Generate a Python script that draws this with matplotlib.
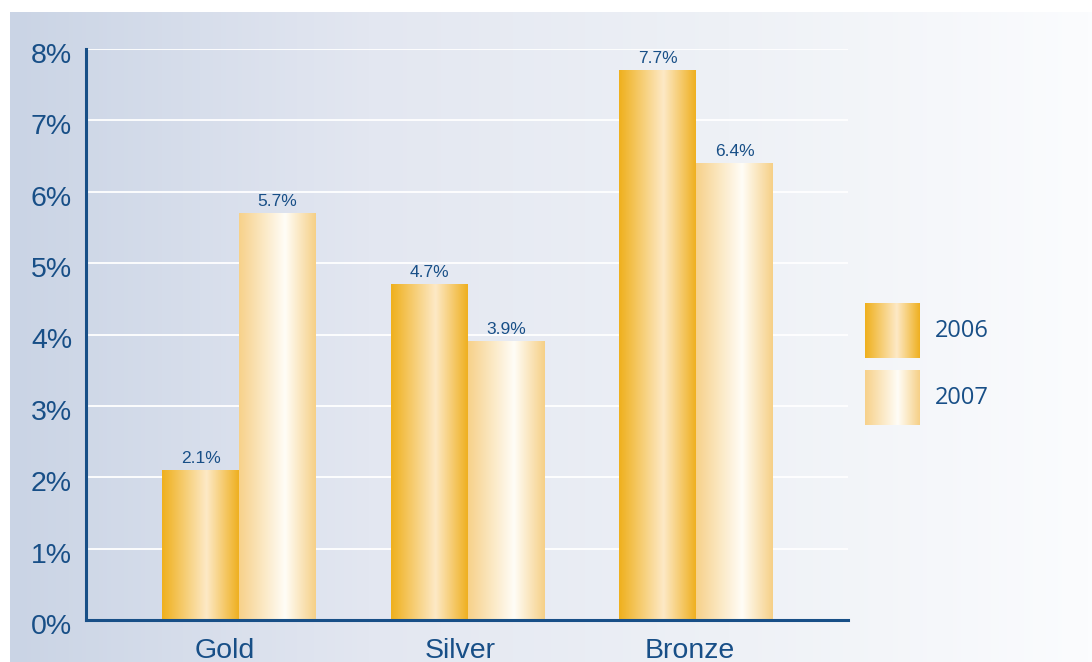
import numpy as np
import matplotlib.pyplot as plt
import matplotlib.transforms as mtransforms
from matplotlib.colors import LinearSegmentedColormap

categories = ['Gold', 'Silver', 'Bronze']
years = ['2006', '2007']
vals_2006 = [2.1, 4.7, 7.7]
vals_2007 = [5.7, 3.9, 6.4]
yticks = [0, 1, 2, 3, 4, 5, 6, 7, 8]

navy = '#184f87'
cm_2006 = LinearSegmentedColormap.from_list('g06', [(0, '#efb01d'), (0.58, '#fde9c6'), (1, '#efb021')])
cm_2007 = LinearSegmentedColormap.from_list('g07', [(0, '#f7d18a'), (0.6, '#fffdf7'), (1, '#f6d087')])
cm_bg = LinearSegmentedColormap.from_list('bg', ['#cad4e5', '#e3e7f1', '#eef1f6', '#fbfcfe'])

W, H = 1092, 662
fig = plt.figure(figsize=(W / 100, H / 100), dpi=100)

# background panel
bg = fig.add_axes([10 / W, 0, 1 - 10 / W, (H - 12) / H], zorder=-5)
bg.imshow(np.linspace(0, 1, 256)[None, :], cmap=cm_bg, aspect='auto', extent=[0, 1, 0, 1])
bg.axis('off')

ax = fig.add_axes([86 / W, (H - 620) / H, (848 - 86) / W, (620 - 49) / H])
ax.patch.set_visible(False)

x = np.arange(len(categories))
w = 0.337
grad = np.linspace(0, 1, 200)[None, :]

for vals, off, cm in [(vals_2006, -w / 2, cm_2006), (vals_2007, w / 2, cm_2007)]:
    bars = ax.bar(x + off, vals, w, color='none', edgecolor='none')
    for b, v in zip(bars, vals):
        x0 = b.get_x()
        ax.imshow(grad, cmap=cm, aspect='auto', extent=[x0, x0 + w, 0, v], zorder=2)
        ax.text(x0 + w / 2, v + 0.06, f'{v:.1f}%', ha='center', va='bottom',
                fontsize=12.5, color=navy, family='Liberation Sans', zorder=3)

ax.set_xlim(-0.67, 2.665)
ax.set_ylim(0, 8)
ax.set_yticks(yticks)
ax.set_yticklabels([f'{t}%' for t in yticks], fontsize=20.5, color=navy, family='Liberation Sans')
ax.set_xticks(x)
ax.set_xticklabels(categories, fontsize=20.5, color=navy, family='Liberation Sans')
ax.tick_params(axis='both', length=0)
ax.tick_params(axis='y', pad=10)
ax.tick_params(axis='x', pad=13)
# nudge labels to where they sit in the original
for lab in ax.get_yticklabels():
    lab.set_transform(lab.get_transform() + mtransforms.ScaledTranslation(0, -4 / 100, fig.dpi_scale_trans))
for lab, dx in zip(ax.get_xticklabels(), [-14, -7, -6]):
    lab.set_transform(lab.get_transform() + mtransforms.ScaledTranslation(dx / 100, 0, fig.dpi_scale_trans))
ax.grid(axis='y', color='white', linewidth=1.3, zorder=0)
ax.set_axisbelow(True)
for s in ['top', 'right']:
    ax.spines[s].set_visible(False)
for s in ['left', 'bottom']:
    ax.spines[s].set_color(navy)
    ax.spines[s].set_linewidth(2.2)
    ax.spines[s].set_zorder(4)

# legend
for i, (yr, cm) in enumerate(zip(years, [cm_2006, cm_2007])):
    top = 303 + i * 67
    lax = fig.add_axes([865 / W, (H - top - 55) / H, 55 / W, 55 / H])
    lax.imshow(grad, cmap=cm, aspect='auto')
    lax.axis('off')
    fig.text(935 / W, (H - top - 28) / H, yr, fontsize=17, color=navy,
             family='Open Sans', va='center', ha='left')

fig.savefig('out.png', dpi=100)
